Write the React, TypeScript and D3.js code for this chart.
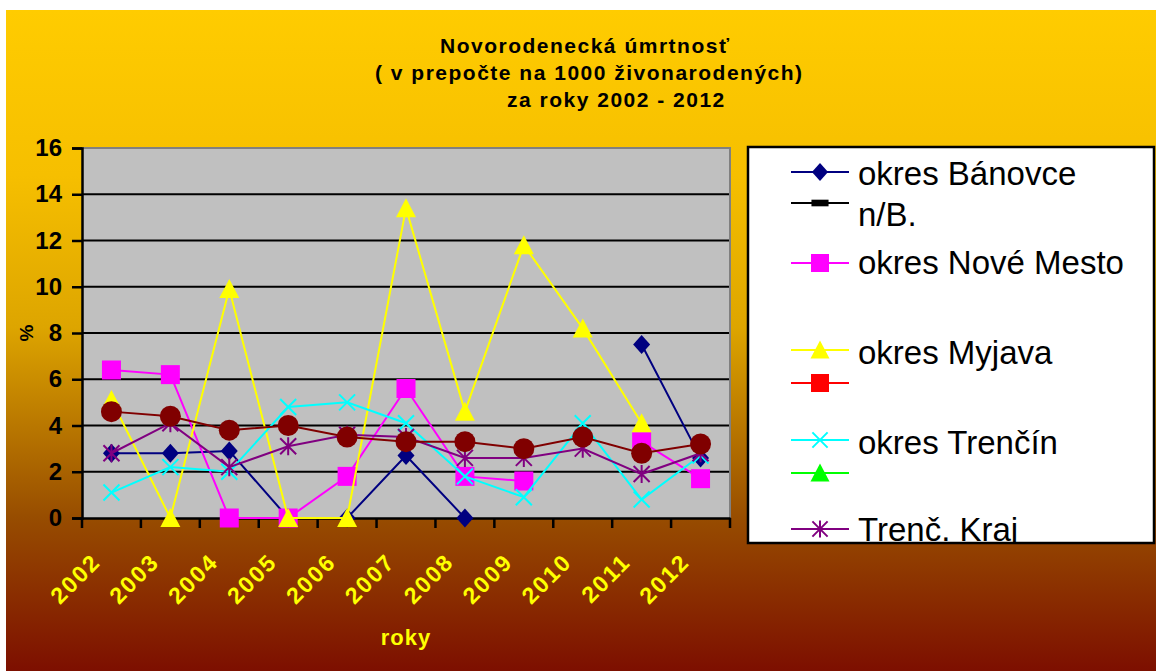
import React, { useEffect, useRef } from "react";
import * as d3 from "d3";

// roky (kategorie osi x)
const years = ["2002", "2003", "2004", "2005", "2006", "2007", "2008", "2009", "2010", "2011", "2012"];
const yTicks = [0, 2, 4, 6, 8, 10, 12, 14, 16];

// hodnoty odčítané z grafu (null = chýba)
const banovce = [2.8, 2.8, 2.9, 0, 0, 2.7, 0, null, null, 7.5, 2.6];
const banovceNB = [null, null, null, null, null, null, null, null, null, null, null];
const noveMesto = [6.4, 6.2, 0, 0, 1.8, 5.6, 1.8, 1.6, null, 3.3, 1.7];
const myjava = [5.1, 0, 9.9, 0, 0, 13.4, 4.6, 11.8, 8.2, 4.1, null];
const myjavaB = [null, null, null, null, null, null, null, null, null, null, null];
const trencin = [1.1, 2.2, 2.0, 4.8, 5.0, 4.1, 1.8, 0.9, 4.1, 0.8, 2.7];
const trencinB = [null, null, null, null, null, null, null, null, null, null, null];
const trencKraj = [2.8, 4.1, 2.2, 3.1, 3.6, 3.5, 2.6, 2.6, 3.0, 1.9, 2.8];
const slovensko = [4.6, 4.4, 3.8, 4.0, 3.5, 3.3, 3.3, 3.0, 3.5, 2.8, 3.2];

const seriesNames = ["okres Bánovce", "n/B.", "okres Nové Mesto", "okres Myjava", "", "okres Trenčín", "", "Trenč. Kraj", "SR"];
const seriesColors = ["#000080", "#000000", "#FF00FF", "#FFFF00", "#FF0000", "#00FFFF", "#00FF00", "#800080", "#800000"];
const seriesMarkers = ["diamond", "dash", "square", "triangle", "square", "x", "triangle", "asterisk", "circle"];
const seriesValues = [banovce, banovceNB, noveMesto, myjava, myjavaB, trencin, trencinB, trencKraj, slovensko];

const W = 1156;
const H = 671;

function markerPath(kind: string, s: number) {
  const p = d3.path();
  if (kind === "diamond") {
    p.moveTo(0, -9.5 * s); p.lineTo(8.5 * s, 0); p.lineTo(0, 9.5 * s); p.lineTo(-8.5 * s, 0); p.closePath();
  } else if (kind === "square") {
    p.rect(-9.5 * s, -9.5 * s, 19 * s, 19 * s);
  } else if (kind === "triangle") {
    p.moveTo(0, -10 * s); p.lineTo(10 * s, 9 * s); p.lineTo(-10 * s, 9 * s); p.closePath();
  } else if (kind === "dash") {
    p.rect(-9 * s, -3.5 * s, 18 * s, 7 * s);
  } else if (kind === "circle") {
    p.arc(0, 0, 10.5 * s, 0, Math.PI * 2);
  } else if (kind === "x") {
    p.moveTo(-8 * s, -8 * s); p.lineTo(8 * s, 8 * s); p.moveTo(8 * s, -8 * s); p.lineTo(-8 * s, 8 * s);
  } else if (kind === "asterisk") {
    p.moveTo(-8 * s, -8 * s); p.lineTo(8 * s, 8 * s); p.moveTo(8 * s, -8 * s); p.lineTo(-8 * s, 8 * s);
    p.moveTo(0, -9 * s); p.lineTo(0, 9 * s);
  }
  return p.toString();
}

const isStroke = (k: string) => k === "x" || k === "asterisk";

export default function App() {
  const svgRef = useRef<SVGSVGElement>(null);

  useEffect(() => {
    const svg = d3.select(svgRef.current);
    svg.selectAll("*").remove();
    const font = "'Liberation Sans', Arial, sans-serif";

    // pozadie
    const defs = svg.append("defs");
    const grad = defs.append("linearGradient").attr("id", "bg").attr("x1", 0).attr("y1", 0).attr("x2", 0).attr("y2", 1);
    [
      [0, "#FFCC00"],
      [0.25, "#F6BF00"],
      [0.48, "#DDA500"],
      [0.77, "#974C00"],
      [1, "#7D0F00"],
    ].forEach(([o, c]) => grad.append("stop").attr("offset", o as number).attr("stop-color", c as string));
    svg.append("rect").attr("x", 6).attr("y", 10).attr("width", W - 6).attr("height", H - 10).attr("fill", "url(#bg)");

    // titulok
    const title = svg.append("g").attr("font-family", font).attr("font-weight", "bold").attr("font-size", 21)
      .attr("letter-spacing", 1.5).attr("fill", "#000");
    title.append("text").attr("x", 440).attr("y", 53).text("Novorodenecká úmrtnosť");
    title.append("text").attr("x", 375).attr("y", 80).text("( v prepočte na 1000 živonarodených)");
    title.append("text").attr("x", 507).attr("y", 107).text("za roky 2002 - 2012");

    // plocha grafu
    const left = 82, right = 730, top = 148, bottom = 518;
    const x = d3.scaleBand().domain(years).range([left, right]);
    const y = d3.scaleLinear().domain([0, 16]).range([bottom, top]);

    svg.append("rect").attr("x", left).attr("y", top).attr("width", right - left).attr("height", bottom - top).attr("fill", "#C0C0C0");
    svg.append("g").selectAll("line").data(yTicks.filter((t) => t > 0 && t < 16)).join("line")
      .attr("x1", left).attr("x2", right).attr("y1", (d) => y(d)).attr("y2", (d) => y(d))
      .attr("stroke", "#000").attr("stroke-width", 2);
    svg.append("path").attr("d", `M${left},${top}H${right}V${bottom}`).attr("fill", "none").attr("stroke", "#808080").attr("stroke-width", 2);

    // os y
    const yAxis = svg.append("g").attr("transform", `translate(${left},0)`)
      .call(d3.axisLeft(y).tickValues(yTicks).tickSize(10).tickPadding(10));
    yAxis.select(".domain").attr("stroke", "#000").attr("stroke-width", 2.5);
    yAxis.selectAll(".tick line").attr("stroke", "#000").attr("stroke-width", 2.5);
    yAxis.selectAll(".tick text").attr("font-family", font).attr("font-weight", "bold").attr("font-size", 24).attr("fill", "#000");

    // os x
    const xAxis = svg.append("g").attr("transform", `translate(0,${bottom})`)
      .call(d3.axisBottom(x).tickSizeOuter(0).tickSize(0).tickFormat(() => ""));
    xAxis.select(".domain").attr("stroke", "#000").attr("stroke-width", 2.5);
    svg.append("g").selectAll("line").data([...years.map((d) => x(d) as number), right]).join("line")
      .attr("x1", (d) => d).attr("x2", (d) => d).attr("y1", bottom).attr("y2", bottom + 10)
      .attr("stroke", "#000").attr("stroke-width", 2.5);
    svg.append("g").selectAll("text").data(years).join("text")
      .attr("transform", (d) => `translate(${(x(d) as number) + x.bandwidth() / 2 - 21},${bottom + 34}) rotate(-45)`)
      .attr("text-anchor", "end").attr("dy", "0.7em").attr("letter-spacing", 2)
      .attr("font-family", font).attr("font-weight", "bold").attr("font-size", 23).attr("fill", "#FFFF00")
      .text((d) => d);

    svg.append("text").attr("x", 406).attr("y", 645).attr("text-anchor", "middle").attr("letter-spacing", 1)
      .attr("font-family", font).attr("font-weight", "bold").attr("font-size", 22).attr("fill", "#FFFF00").text("roky");
    svg.append("text").attr("transform", "translate(33,333) rotate(-90)").attr("text-anchor", "middle")
      .attr("font-family", font).attr("font-weight", "bold").attr("font-size", 19).attr("fill", "#000").text("%");

    // série
    const cx = (i: number) => (x(years[i]) as number) + x.bandwidth() / 2;
    const line = d3.line<number | null>().defined((d) => d !== null).x((_, i) => cx(i)).y((d) => y(d as number));
    seriesValues.forEach((vals, si) => {
      const g = svg.append("g");
      const color = seriesColors[si];
      const mk = seriesMarkers[si];
      g.append("path").attr("d", line(vals)).attr("fill", "none").attr("stroke", color).attr("stroke-width", 2);
      g.selectAll("path.m").data(vals.map((v, i) => ({ v, i })).filter((d) => d.v !== null)).join("path")
        .attr("class", "m")
        .attr("transform", (d) => `translate(${cx(d.i)},${y(d.v as number)})`)
        .attr("d", markerPath(mk, 1))
        .attr("fill", isStroke(mk) ? "none" : color)
        .attr("stroke", isStroke(mk) ? color : "none")
        .attr("stroke-width", 2);
    });

    // legenda
    const lgX = 748, lgY = 147, lgW = 406, lgH = 396;
    defs.append("clipPath").attr("id", "lgclip").append("rect").attr("x", lgX).attr("y", lgY).attr("width", lgW).attr("height", lgH);
    svg.append("rect").attr("x", lgX).attr("y", lgY).attr("width", lgW).attr("height", lgH).attr("fill", "#fff");
    const lg = svg.append("g").attr("clip-path", "url(#lgclip)");
    const rowY = [172, 203, 263, 350, 383, 440, 473, 529];
    const textY = [185, 226, 274, 364, 0, 454, 0, 541];
    rowY.forEach((ry, i) => {
      const color = seriesColors[i];
      const mk = seriesMarkers[i];
      lg.append("line").attr("x1", 791).attr("x2", 849).attr("y1", ry).attr("y2", ry).attr("stroke", color).attr("stroke-width", 2);
      lg.append("path").attr("transform", `translate(820,${ry})`).attr("d", markerPath(mk, 0.95))
        .attr("fill", isStroke(mk) ? "none" : color).attr("stroke", isStroke(mk) ? color : "none").attr("stroke-width", 2);
      if (seriesNames[i]) {
        lg.append("text").attr("x", 858).attr("y", textY[i]).attr("font-family", font).attr("font-size", 33)
          .attr("fill", "#000").text(seriesNames[i]);
      }
    });
    svg.append("rect").attr("x", lgX).attr("y", lgY).attr("width", lgW).attr("height", lgH)
      .attr("fill", "none").attr("stroke", "#000").attr("stroke-width", 2.5);
  }, []);

  return (
    <div style={{ position: "absolute", left: 0, top: 0 }}>
      <svg ref={svgRef} width={W} height={H} style={{ display: "block", background: "#fff" }} />
    </div>
  );
}
